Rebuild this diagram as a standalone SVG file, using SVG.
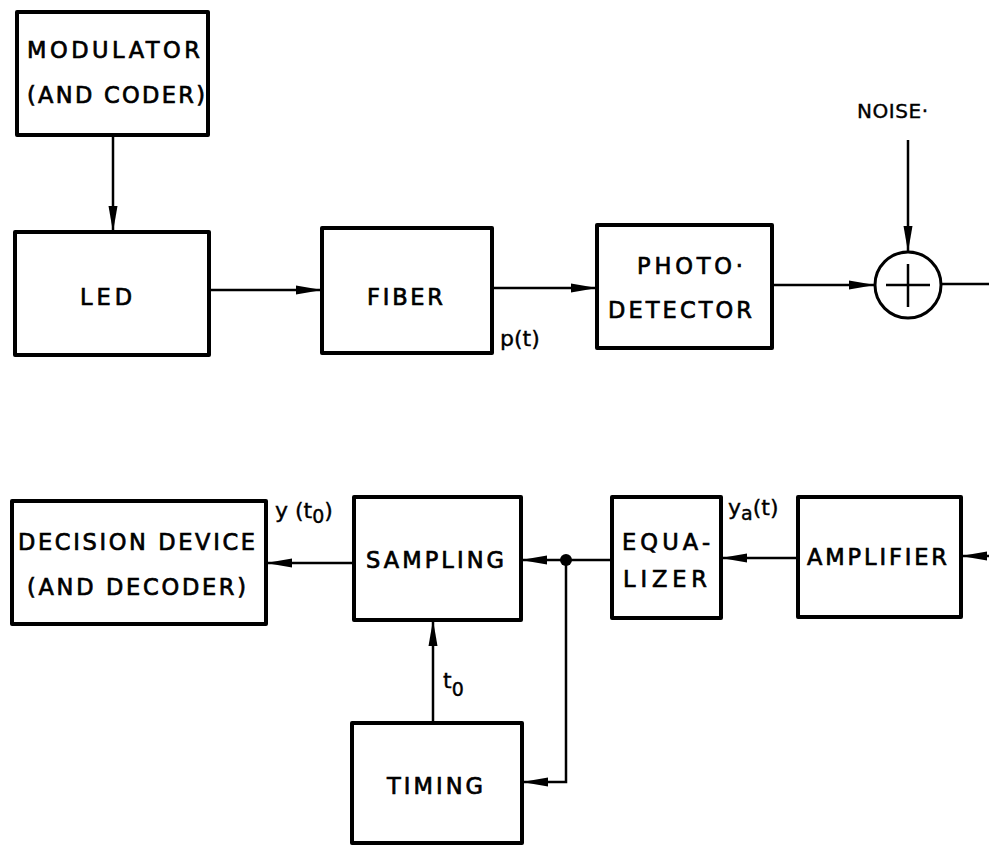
<svg xmlns="http://www.w3.org/2000/svg" width="989" height="846" viewBox="0 0 989 846">
<defs>
<style>
.box{fill:#fff;stroke:#000;stroke-width:4;stroke-linejoin:round}
.wire{fill:none;stroke:#000;stroke-width:2.5}
text{font-family:"DejaVu Sans","Liberation Sans",sans-serif;font-size:22.5px;fill:#000;stroke:#000;stroke-width:0.7}
.lbl{font-size:22px;stroke-width:0.4}
.sub{font-size:19px}
</style>
<marker id="arr" markerUnits="userSpaceOnUse" markerWidth="28" markerHeight="12" refX="26" refY="6" orient="auto">
<path d="M0,1.5 L26,6 L0,10.5 Z" fill="#000"/>
</marker>
</defs>
<rect width="989" height="846" fill="#fff"/>

<g id="connectors">
<line class="wire" x1="113" y1="135" x2="113" y2="232" marker-end="url(#arr)"/>
<line class="wire" x1="209" y1="290" x2="322" y2="290" marker-end="url(#arr)"/>
<line class="wire" x1="492" y1="288" x2="597" y2="288" marker-end="url(#arr)"/>
<line class="wire" x1="772" y1="285" x2="875" y2="285" marker-end="url(#arr)"/>
<line class="wire" x1="908" y1="140" x2="908" y2="252" marker-end="url(#arr)"/>
<line class="wire" x1="942" y1="284" x2="989" y2="284"/>
<line class="wire" x1="989" y1="556" x2="961" y2="556" marker-end="url(#arr)"/>
<line class="wire" x1="798" y1="558" x2="721" y2="558" marker-end="url(#arr)"/>
<line class="wire" x1="612" y1="560" x2="521" y2="560" marker-end="url(#arr)"/>
<circle cx="566" cy="560" r="6" fill="#000"/>
<polyline class="wire" points="566,560 566,782 522,782" marker-end="url(#arr)"/>
<line class="wire" x1="354" y1="563" x2="266" y2="563" marker-end="url(#arr)"/>
<line class="wire" x1="433" y1="723" x2="433" y2="620" marker-end="url(#arr)"/>
</g>

<g id="modulator">
<rect class="box" x="17" y="12" width="191" height="123"/>
<text x="27" y="58" textLength="173">MODULATOR</text>
<text x="27" y="103" textLength="178">(AND CODER)</text>
</g>

<g id="led">
<rect class="box" x="15" y="232" width="194" height="123"/>
<text x="80" y="305" textLength="52">LED</text>
</g>

<g id="fiber">
<rect class="box" x="322" y="228" width="170" height="125"/>
<text x="367" y="305" textLength="76">FIBER</text>
<text class="lbl" x="500" y="346">p(t)</text>
</g>

<g id="photodetector">
<rect class="box" x="597" y="225" width="175" height="123"/>
<text x="637" y="274" textLength="106">PHOTO·</text>
<text x="608" y="318" textLength="144">DETECTOR</text>
</g>

<g id="sum">
<circle cx="908" cy="285" r="33" fill="#fff" stroke="#000" stroke-width="3"/>
<line class="wire" x1="886" y1="285" x2="930" y2="285"/>
<line class="wire" x1="908" y1="264" x2="908" y2="307"/>
<text class="lbl" x="857" y="118" textLength="71" style="font-size:20px">NOISE·</text>
</g>

<g id="amplifier">
<rect class="box" x="798" y="497" width="163" height="120"/>
<text x="807" y="565" textLength="140">AMPLIFIER</text>
</g>

<g id="equalizer">
<rect class="box" x="612" y="497" width="109" height="121"/>
<text x="622" y="550" textLength="88">EQUA-</text>
<text x="623" y="587" textLength="84">LIZER</text>
<text class="lbl" x="728" y="515">y<tspan class="sub" dy="5">a</tspan><tspan dy="-5">(t)</tspan></text>
</g>

<g id="sampling">
<rect class="box" x="354" y="497" width="167" height="123"/>
<text x="366" y="568" textLength="138">SAMPLING</text>
<text class="lbl" x="275" y="518">y (t<tspan class="sub" dy="5">0</tspan><tspan dy="-5">)</tspan></text>
</g>

<g id="decision">
<rect class="box" x="12" y="501" width="254" height="123"/>
<text x="18" y="550" textLength="237">DECISION DEVICE</text>
<text x="27" y="595" textLength="219">(AND DECODER)</text>
</g>

<g id="timing">
<rect class="box" x="352" y="723" width="170" height="120"/>
<text x="387" y="794" textLength="96">TIMING</text>
<text class="lbl" x="443" y="688">t<tspan class="sub" dy="8">0</tspan></text>
</g>
</svg>
